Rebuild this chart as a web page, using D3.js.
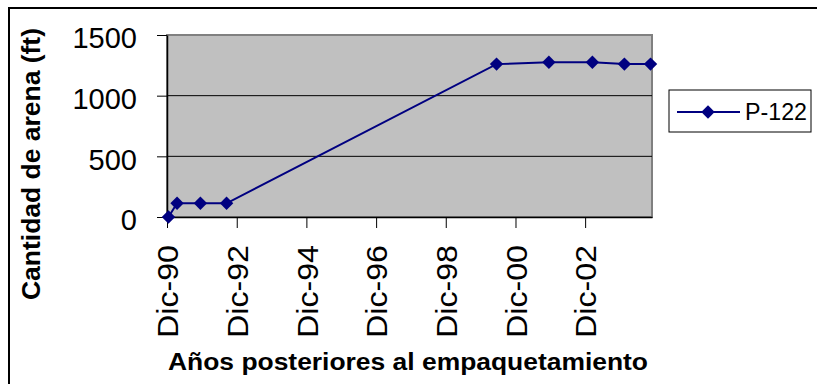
<!DOCTYPE html>
<html>
<head>
<meta charset="utf-8">
<script src="https://cdn.jsdelivr.net/npm/d3@7"></script>
<style>
  html, body { margin: 0; padding: 0; background: #fff; }
  svg { display: block; font-family: "Liberation Sans", Arial, sans-serif; }
</style>
</head>
<body>
<svg id="chart" width="817" height="384"></svg>
<script>
// Sand quantity measured in well P-122 after gravel packing
const seriesName = "P-122";
const months = ["1990-12", "1991-03", "1991-11", "1992-08", "2000-05",
                "2001-11", "2003-02", "2004-01", "2004-10"];
const sandFt = [0, 113, 113, 113, 1260, 1275, 1275, 1260, 1260];
const yTicks = [0, 500, 1000, 1500];
const xTickYears = [1990, 1992, 1994, 1996, 1998, 2000, 2002];
const yTitle = "Cantidad de arena (ft)";
const xTitle = "Años posteriores al empaquetamiento";

const svg = d3.select("#chart");
const plot = { left: 167, right: 652, top: 35, bottom: 217 };
const navy = "#000080";

const parseMonth = d3.timeParse("%Y-%m");
// each point sits in the middle of its month, as on a monthly date axis
const midMonth = s => {
  const a = parseMonth(s), b = d3.timeMonth.offset(a, 1);
  return new Date((+a + +b) / 2);
};
const data = months.map((m, i) => ({ date: midMonth(m), value: sandFt[i] }));

const x = d3.scaleTime()
  .domain([parseMonth("1990-12"), parseMonth("2004-11")])
  .range([plot.left, plot.right]);
const y = d3.scaleLinear().domain([0, 1500]).range([plot.bottom, plot.top]);

// outer chart frame
svg.append("rect")
  .attr("x", 9).attr("y", 8).attr("width", 900).attr("height", 500)
  .attr("fill", "none").attr("stroke", "#000").attr("stroke-width", 2);

// plot area
svg.append("rect")
  .attr("x", plot.left).attr("y", plot.top)
  .attr("width", plot.right - plot.left).attr("height", plot.bottom - plot.top)
  .attr("fill", "#c0c0c0").attr("stroke", "#808080").attr("stroke-width", 2);

// horizontal gridlines
svg.append("g").selectAll("line")
  .data(yTicks.filter(v => v > 0 && v < 1500))
  .join("line")
  .attr("x1", plot.left).attr("x2", plot.right)
  .attr("y1", d => y(d)).attr("y2", d => y(d))
  .attr("stroke", "#000").attr("stroke-width", 1);

// y axis
const yAxis = svg.append("g")
  .attr("transform", `translate(${plot.left},0)`)
  .call(d3.axisLeft(y).tickValues(yTicks).tickFormat(d3.format("d"))
    .tickSize(10).tickSizeOuter(0).tickPadding(20));
yAxis.select(".domain").attr("stroke", "#000").attr("stroke-width", 1.5);
yAxis.selectAll(".tick line").attr("stroke", "#000");
yAxis.selectAll(".tick text")
  .attr("font-size", 29).attr("fill", "#000")
  .attr("font-family", "Liberation Sans, Arial, sans-serif")
  .attr("dy", "0.36em").attr("y", 2.5);

// x axis
const monthEs = ["Ene","Feb","Mar","Abr","May","Jun","Jul","Ago","Sep","Oct","Nov","Dic"];
const xTickDates = xTickYears.map(yr => new Date(yr, 11, 1));
const xAxis = svg.append("g")
  .attr("transform", `translate(0,${plot.bottom})`)
  .call(d3.axisBottom(x).tickValues(xTickDates).tickSize(11).tickSizeOuter(0)
    .tickFormat(d => monthEs[d.getMonth()] + "-" + d3.timeFormat("%y")(d)));
xAxis.select(".domain").attr("stroke", "#000").attr("stroke-width", 1.5);
xAxis.selectAll(".tick line").attr("stroke", "#000");
xAxis.selectAll(".tick text")
  .attr("font-size", 30).attr("fill", "#000")
  .attr("font-family", "Liberation Sans, Arial, sans-serif")
  .attr("text-anchor", "end")
  .attr("transform", "rotate(-90)")
  .attr("x", -28).attr("y", 0).attr("dy", "0.36em")
  .attr("textLength", 93).attr("lengthAdjust", "spacingAndGlyphs");

// series line and diamond markers
svg.append("path")
  .datum(data)
  .attr("fill", "none").attr("stroke", navy).attr("stroke-width", 2)
  .attr("d", d3.line().x(d => x(d.date)).y(d => y(d.value)));

const diamond = d3.symbol().type(d3.symbolSquare).size(90);
svg.append("g").selectAll("path")
  .data(data)
  .join("path")
  .attr("d", diamond)
  .attr("fill", navy)
  .attr("transform", d => `translate(${x(d.date)},${y(d.value)}) rotate(45)`);

// axis titles
svg.append("text")
  .attr("transform", "translate(40,164) rotate(-90)")
  .attr("text-anchor", "middle")
  .attr("font-size", 25).attr("font-weight", "bold").attr("fill", "#000")
  .attr("textLength", 272).attr("lengthAdjust", "spacingAndGlyphs")
  .text(yTitle);

svg.append("text")
  .attr("x", 408).attr("y", 370)
  .attr("text-anchor", "middle")
  .attr("font-size", 23).attr("font-weight", "bold").attr("fill", "#000")
  .attr("textLength", 480).attr("lengthAdjust", "spacingAndGlyphs")
  .text(xTitle);

// legend
const lg = svg.append("g");
lg.append("rect")
  .attr("x", 669).attr("y", 90).attr("width", 142).attr("height", 42)
  .attr("fill", "#fff").attr("stroke", "#000").attr("stroke-width", 1);
lg.append("line")
  .attr("x1", 677).attr("x2", 740).attr("y1", 112).attr("y2", 112)
  .attr("stroke", navy).attr("stroke-width", 2);
lg.append("path")
  .attr("d", diamond).attr("fill", navy)
  .attr("transform", "translate(708,112) rotate(45)");
lg.append("text")
  .attr("x", 745).attr("y", 120)
  .attr("font-size", 24).attr("fill", "#000")
  .attr("textLength", 62).attr("lengthAdjust", "spacingAndGlyphs")
  .text(seriesName);
</script>
</body>
</html>
